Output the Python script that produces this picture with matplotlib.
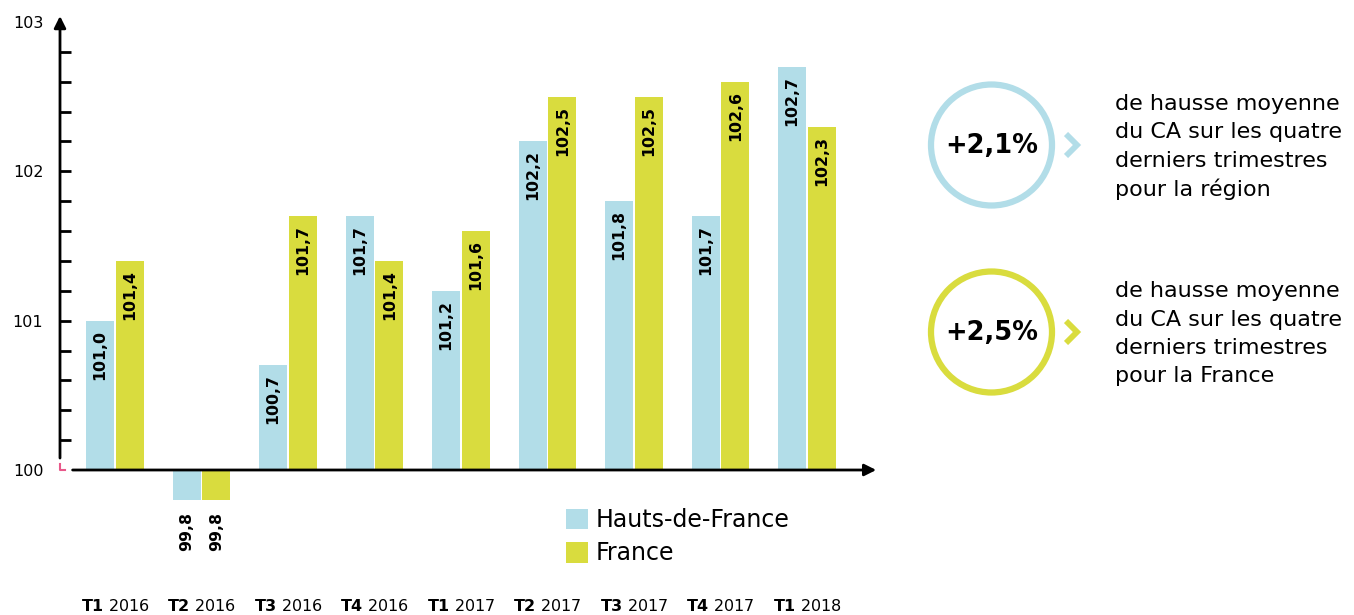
import matplotlib
matplotlib.use("Agg")
import matplotlib.pyplot as plt
import numpy as np
from matplotlib.patches import Circle
from matplotlib.transforms import blended_transform_factory, offset_copy

plt.rcParams['font.family'] = ['DejaVu Sans']
plt.rcParams['mathtext.fontset'] = 'dejavusans'

# ---- data ----
quarters = ["T1", "T2", "T3", "T4", "T1", "T2", "T3", "T4", "T1"]
years = ["2016", "2016", "2016", "2016", "2017", "2017", "2017", "2017", "2018"]
hdf_values = [101.0, 99.8, 100.7, 101.7, 101.2, 102.2, 101.8, 101.7, 102.7]
france_values = [101.4, 99.8, 101.7, 101.4, 101.6, 102.5, 102.5, 102.6, 102.3]
series_names = ["Hauts-de-France", "France"]
y_tick_values = [100, 101, 102, 103]
baseline = 100
kpi_values = ["+2,1%", "+2,5%"]
kpi_texts = ["de hausse moyenne\ndu CA sur les quatre\nderniers trimestres\npour la région",
             "de hausse moyenne\ndu CA sur les quatre\nderniers trimestres\npour la France"]

BLUE = "#b2dde8"
GREEN = "#d9dc3e"
W, H = 1354, 615

fig = plt.figure(figsize=(W / 100, H / 100), dpi=100)

# axes in pixel layout
left_px, right_px, top_px, bot_px = 60, 880, 10, 595
ax = fig.add_axes([left_px / W, 1 - bot_px / H, (right_px - left_px) / W, (bot_px - top_px) / H])
px_per_unit = (470 - 22) / 3.0
ax.set_ylim(100 - (bot_px - 470) / px_per_unit, 103 + (22 - top_px) / px_per_unit)
grp = 86.5
ax.set_xlim(-(115 - left_px) / grp, (right_px - 115) / grp)

x = np.arange(len(quarters))
bw = 0.324
off = 0.173
b1 = ax.bar(x - off, np.array(hdf_values) - baseline, bottom=baseline, width=bw, color=BLUE, label=series_names[0], zorder=2)
b2 = ax.bar(x + off, np.array(france_values) - baseline, bottom=baseline, width=bw, color=GREEN, label=series_names[1], zorder=2)

for xs, vals in ((x - off, hdf_values), (x + off, france_values)):
    for xi, v in zip(xs, vals):
        txt = f"{v:.1f}".replace(".", ",")
        if v >= baseline:
            tr = offset_copy(ax.transData, fig=fig, x=0, y=-6.5, units='points')
        else:
            tr = offset_copy(ax.transData, fig=fig, x=0, y=-9, units='points')
        ax.text(xi, v, txt, rotation=90, ha='center', va='top', fontsize=11.3,
                fontweight='bold', transform=tr, zorder=3)

for s in ax.spines.values():
    s.set_visible(False)

# x axis with arrow
ax.annotate("", xy=(8.80, baseline), xytext=(-0.49, baseline), xycoords='data',
            arrowprops=dict(arrowstyle='-|>,head_length=0.7,head_width=0.35', color='black', lw=2,
                            shrinkA=0, shrinkB=0), zorder=4)
# y axis with arrow
btr = blended_transform_factory(ax.transAxes, ax.transData)
ax.annotate("", xy=(0, 103.04), xytext=(0, 100.08), xycoords=btr, textcoords=btr,
            arrowprops=dict(arrowstyle='-|>,head_length=0.7,head_width=0.35', color='black', lw=2,
                            shrinkA=0, shrinkB=0), zorder=4)
# small pink corner at origin
ax.plot([0, 0, 0.006], [100.04, 100.0, 100.0], transform=btr, color='#e8588a', lw=1.5, clip_on=False)

# ticks
ax.set_yticks(y_tick_values)
ax.set_yticklabels([str(v) for v in y_tick_values], fontsize=11.5)
ax.tick_params(axis='y', which='major', length=0, pad=12)
minor = [round(v, 1) for v in np.arange(100.2, 102.85, 0.2)]
ax.set_yticks(minor, minor=True)
ax.yaxis.remove_overlapping_locs = False
ax.tick_params(axis='y', which='minor', direction='in', length=8, width=2, color='black')

ax.set_xticks(x)
ax.set_xticklabels([rf"$\mathbf{{{q}}}$ {y}" for q, y in zip(quarters, years)], fontsize=11.5)
ax.tick_params(axis='x', length=0, pad=2)

ax.legend(handles=[b1, b2], loc='upper left', bbox_to_anchor=(566 / W, 1 - 508 / H),
          bbox_transform=fig.transFigure, frameon=False, fontsize=17,
          handlelength=0.95, handleheight=0.95, handletextpad=0.3, labelspacing=0.4,
          borderpad=0, borderaxespad=0)

# ---- right panel ----
rx0 = 900
ax2 = fig.add_axes([rx0 / W, 0, (W - rx0) / W, 1])
ax2.set_xlim(rx0, W)
ax2.set_ylim(H, 0)
ax2.axis('off')

centers_y = [145, 332]
colors = [BLUE, GREEN]
for cy, col, kpi, txt in zip(centers_y, colors, kpi_values, kpi_texts):
    ax2.add_patch(Circle((991.5, cy), 60.5, fill=False, ec=col, lw=4.5))
    ax2.text(991.5, cy + 1, kpi, ha='center', va='center', fontsize=18.5, fontweight='bold')
    ax2.plot([1066, 1077, 1066], [cy - 11, cy, cy + 11], color=col, lw=4.2,
             solid_joinstyle='miter', solid_capstyle='butt')
    lines = txt.split("\n")
    for i, line in enumerate(lines):
        ax2.text(1115, cy - 41 + i * 28.5, line, ha='left', va='center', fontsize=16)

fig.savefig("out.png", dpi=100)
